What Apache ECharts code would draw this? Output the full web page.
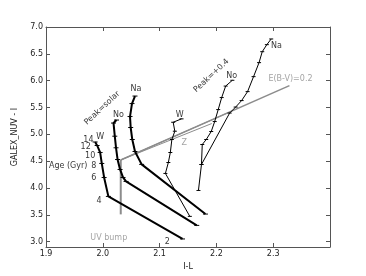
<!DOCTYPE html>
<html><head><meta charset="utf-8">
<script src="https://cdn.jsdelivr.net/npm/echarts@6/dist/echarts.min.js"></script>
<style>html,body{margin:0;padding:0;background:#fff}#c{width:366px;height:276px}</style>
</head><body><div id="c"></div>
<script>
const xTicks = [1.9, 2.0, 2.1, 2.2, 2.3];
const yTicks = [3.0, 3.5, 4.0, 4.5, 5.0, 5.5, 6.0, 6.5, 7.0];

// Peak = solar (thick)
const solarW  = [[1.9865,4.857],[1.9900,4.792],[1.9953,4.662],[1.9982,4.457],[2.0023,4.196],[2.0098,3.843],[2.1404,3.050]];
const solarNo = [[2.0242,5.266],[2.0189,5.210],[2.0211,4.965],[2.0233,4.749],[2.0260,4.531],[2.0304,4.345],[2.0356,4.196],[2.0409,4.122],[2.1654,3.303]];
const solarNa = [[2.0567,5.713],[2.0514,5.573],[2.0479,5.331],[2.0491,5.127],[2.0519,4.903],[2.0567,4.680],[2.0684,4.440],[2.1807,3.514]];
// Peak = +0.4 (thin)
const plusW  = [[2.1386,5.288],[2.1239,5.225],[2.1268,5.058],[2.1216,4.903],[2.1189,4.661],[2.1154,4.475],[2.1102,4.271],[2.1532,3.471]];
const plusNo = [[2.2281,6.007],[2.2163,5.899],[2.2093,5.685],[2.2032,5.461],[2.1970,5.238],[2.1909,5.052],[2.1821,4.903],[2.1751,4.810],[2.1737,4.438],[2.1684,3.954]];
const plusNa = [[2.2965,6.777],[2.2888,6.671],[2.2807,6.540],[2.2751,6.336],[2.2654,6.075],[2.2549,5.796],[2.2444,5.629],[2.2339,5.508],[2.2233,5.396],[2.1737,4.438]];
// vectors
const ebvVec = [[2.0316,4.522],[2.3286,5.908]];
const zVecA  = [[2.0316,4.522],[2.2233,5.415]];
const zVecB  = [[2.0316,4.522],[2.1918,5.201]];
const uvVec  = [[2.0316,4.522],[2.0316,3.508]];

// text annotations (data coordinates)
const blackTexts = [
  ['Na',2.0584,5.847],['No',2.0274,5.355],['W',1.9953,4.946],
  ['W',2.1356,5.368],['No',2.2268,6.094],['Na',2.3057,6.639],
  ['Age (Gyr)',1.9391,4.41],
  ['14',1.9747,4.890],['12',1.9698,4.767],['10',1.9777,4.600],['8',1.9842,4.414],
  ['6',1.9842,4.196],['4',1.9935,3.763],['2',2.1137,2.987]
];
const rotTexts = [['Peak=solar',1.9988,5.489],['Peak=+0.4',2.1912,6.094]];
const grayTexts = [['Z',2.1432,4.842],['E(B-V)=0.2',2.3304,6.038],['UV bump',2.0105,3.074]];

const FONT = 'DejaVu Sans';
const chart = echarts.init(document.getElementById('c'), null, {renderer:'canvas'});

function curve(data, w, tick){
  return {type:'line', data:data, lineStyle:{color:'#000', width:w}, itemStyle:{color:'#000'},
    symbol:'rect', symbolSize:tick, showSymbol:true, animation:false, silent:true, z:3};
}
function grayLine(data, w){
  return {type:'line', data:data, lineStyle:{color:'#8c8c8c', width:w}, symbol:'none', animation:false, silent:true, z:2};
}
function textSeries(list, color, rot){
  return {type:'scatter', symbolSize:0, animation:false, silent:true, z:5,
    data:list.map(t=>({value:[t[1],t[2]], name:t[0]})),
    label:{show:true, position:'inside', formatter:p=>p.name, color:color, fontFamily:FONT, fontSize:8, rotate:rot||0}};
}

const axisCommon = {
  axisLine:{show:true, onZero:false, lineStyle:{color:'#555', width:1}},
  splitLine:{show:false},
};

chart.setOption({
  backgroundColor:'#fff',
  grid:{left:46, right:36, top:27, bottom:29},
  xAxis:[
    Object.assign({type:'value', min:1.9, max:2.4, position:'bottom',
      name:'I-L', nameLocation:'middle', nameGap:11, nameTextStyle:{fontFamily:FONT, fontSize:8, color:'#222'},
      axisTick:{show:true, inside:true, length:4, lineStyle:{color:'#555'}, customValues:xTicks},
      axisLabel:{show:true, fontFamily:FONT, fontSize:8, color:'#222', margin:3, customValues:xTicks, formatter:v=>v.toFixed(1)}
    }, axisCommon),
    Object.assign({type:'value', min:1.9, max:2.4, position:'top',
      axisTick:{show:true, inside:true, length:4, lineStyle:{color:'#555'}, customValues:xTicks},
      axisLabel:{show:false}
    }, axisCommon)
  ],
  yAxis:[
    Object.assign({type:'value', min:2.9, max:7.0, position:'left',
      name:'GALEX_NUV - I', nameLocation:'middle', nameGap:17, nameTextStyle:{fontFamily:FONT, fontSize:8, color:'#222'},
      axisTick:{show:true, inside:true, length:4, lineStyle:{color:'#555'}, customValues:yTicks},
      axisLabel:{show:true, fontFamily:FONT, fontSize:8, color:'#222', margin:3, customValues:yTicks, formatter:v=>v.toFixed(1)}
    }, axisCommon),
    Object.assign({type:'value', min:2.9, max:7.0, position:'right',
      axisTick:{show:true, inside:true, length:4, lineStyle:{color:'#555'}, customValues:yTicks},
      axisLabel:{show:false}
    }, axisCommon)
  ],
  series:[
    grayLine(ebvVec, 1.5), grayLine(zVecA, 1), grayLine(zVecB, 1), grayLine(uvVec, 2),
    curve(solarW, 2, [5,1]), curve(solarNo, 2, [5,1]), curve(solarNa, 2, [5,1]),
    curve(plusW, 1, [4,1]), curve(plusNo, 1, [4,1]), curve(plusNa, 1, [4,1]),
    textSeries(blackTexts, '#000'),
    textSeries(rotTexts, '#000', 43),
    textSeries(grayTexts, '#8c8c8c')
  ]
});
</script></body></html>
